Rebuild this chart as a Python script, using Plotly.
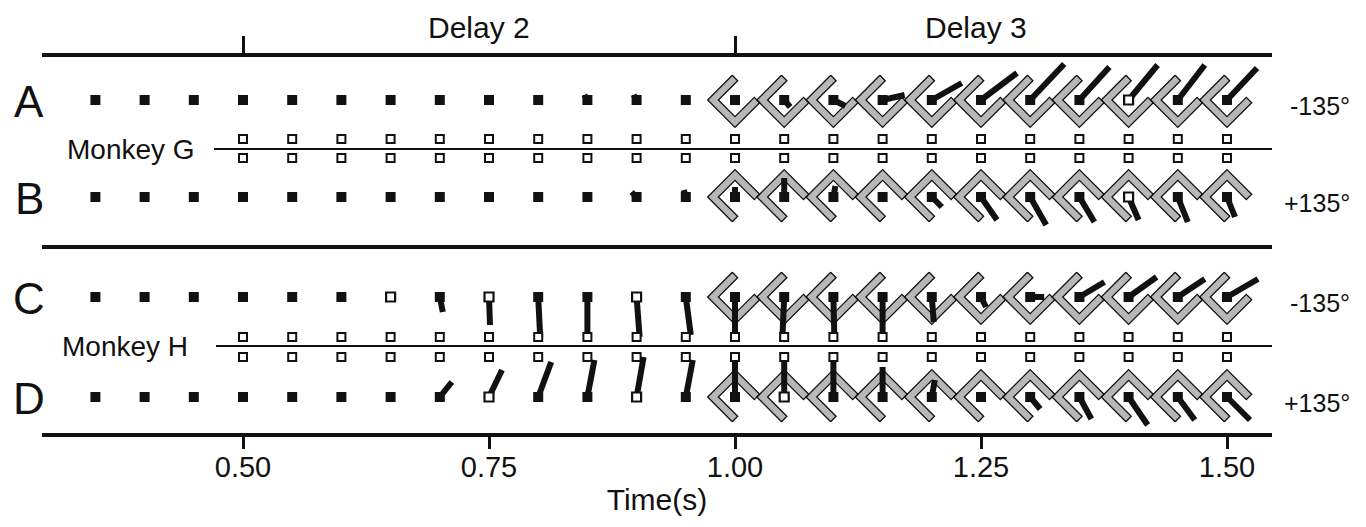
import numpy as np
import plotly.graph_objects as go

# ---------------- data ----------------
times = [0.35, 0.40, 0.45, 0.50, 0.55, 0.60, 0.65, 0.70, 0.75, 0.80, 0.85, 0.90,
         0.95, 1.00, 1.05, 1.10, 1.15, 1.20, 1.25, 1.30, 1.35, 1.40, 1.45, 1.50]
mid_times = [0.50, 0.55, 0.60, 0.65, 0.70, 0.75, 0.80, 0.85, 0.90, 0.95, 1.00,
             1.05, 1.10, 1.15, 1.20, 1.25, 1.30, 1.35, 1.40, 1.45, 1.50]
stim_times = [1.00, 1.05, 1.10, 1.15, 1.20, 1.25, 1.30, 1.35, 1.40, 1.45, 1.50]
tick_vals = [0.50, 0.75, 1.00, 1.25, 1.50]
tick_text = ["0.50", "0.75", "1.00", "1.25", "1.50"]
epoch_ticks = [0.50, 1.00]
epoch_names = ["Delay 2", "Delay 3"]
epoch_label_t = [0.74, 1.245]
row_names = ["A", "B", "C", "D"]
target_labels = ["-135°", "+135°"]
monkeys = ["Monkey G", "Monkey H"]

# population vector components (horizontal, vertical) per time bin
a_vx = [0, 0, 0, 0, 0, 0, 0, 0, 0, 0, -3, -3, 0, 0, 6, 12, 22, 30, 36, 34, 30, 29, 27, 30]
a_vy = [0, 0, 0, 0, 0, 0, 0, 0, 0, 0, -5, -5, 0, 0, 7, 6, -5, -17, -27, -36, -33, -35, -35, -32]
b_vx = [0, 0, 0, 0, 0, 0, 0, 0, 0, 0, 0, -5, -2, 0, 0, 2, 0, 10, 16, 16, 15, 10, 10, 8]
b_vy = [0, 0, 0, 0, 0, 0, 0, 0, 0, 0, 0, -5, -7, -10, -19, -11, 0, 10, 23, 28, 25, 23, 25, 20]
c_vx = [0, 0, 0, 0, 0, 0, 0, 3, 1, 2, 0, 3, 5, 0, -2, 1, 0, 2, 5, 14, 25, 28, 27, 31]
c_vy = [0, 0, 0, 0, 0, 0, 0, 15, 28, 40, 42, 40, 38, 42, 45, 43, 45, 25, 10, 0, -15, -20, -18, -18]
d_vx = [0, 0, 0, 0, 0, 0, 0, 12, 13, 13, 7, 7, 7, 0, 0, 0, 0, 3, 0, 10, 12, 19, 17, 23]
d_vy = [0, 0, 0, 0, 0, 0, 0, -15, -27, -35, -37, -40, -37, -40, -42, -38, -30, -17, 0, 12, 22, 28, 23, 23]
# bins whose origin marker is drawn hollow
a_open = [21]
b_open = [21]
c_open = [6, 8, 11]
d_open = [8, 11, 14]

# ---------------- layout constants (page pixel coordinates) ----------------
PAGE_OFF = 8                       # default body margin of the html page
X_MIN, X_MAX = 0.29573, 1.54573
PLOT_L, PLOT_R, PLOT_T, PLOT_B = 42, 1272, 57, 433
W, H = 1350, 511
ML = PLOT_L - PAGE_OFF
MT = PLOT_T - PAGE_OFF
MR = W - (PLOT_R - PAGE_OFF)
MB = H - (PLOT_B - PAGE_OFF)
PLOT_W = PLOT_R - PLOT_L
PLOT_H = PLOT_B - PLOT_T
PX_PER_S = PLOT_W / (X_MAX - X_MIN)
ROW_Y = [100, 197, 297, 397]
MID_Y = [(139, 158), (337, 357)]
MID_LINE_Y = [149, 346]
MID_LINE_X0 = [214, 216]
MONKEY_X = [131, 125]
SEP_Y = 247
FONT = "Liberation Sans, Arial, Helvetica, sans-serif"
INK = "#111111"
GRAY = "#b7b7b7"

rows_vx = [a_vx, b_vx, c_vx, d_vx]
rows_vy = [a_vy, b_vy, c_vy, d_vy]
rows_open = [a_open, b_open, c_open, d_open]
open_dir = [-1, 1, -1, 1]          # chevron gap toward upper right (-1) or lower right (+1)


def dt(px):
    return px / PX_PER_S


def px_paper(px):
    return (px - PLOT_L) / PLOT_W


def py_paper(py):
    return (PLOT_B - py) / PLOT_H


R, HW = 22.0, 3.8


def chevron(t, yc, s):
    u0 = np.array([0.0, s]); u1 = np.array([-1.0, 0.0])
    u2 = np.array([0.0, -s]); u3 = np.array([1.0, 0.0])
    n01 = (u0 + u1) / np.linalg.norm(u0 + u1)
    n23 = (u2 + u3) / np.linalg.norm(u2 + u3)
    k = HW * np.sqrt(2)
    pts = [R * u0 + HW * n01, (R + k) * u1, (R + k) * u2, R * u3 + HW * n23,
           R * u3 - HW * n23, (R - k) * u2, (R - k) * u1, R * u0 - HW * n01,
           R * u0 + HW * n01]
    xs = [t + dt(p[0]) for p in pts]
    ys = [yc + p[1] for p in pts]
    return xs, ys


fig = go.Figure()

# chevrons (stimulus cue)
for r in range(4):
    cx, cy = [], []
    for t in stim_times:
        xs, ys = chevron(t, ROW_Y[r], open_dir[r])
        cx += xs + [None]
        cy += ys + [None]
    fig.add_trace(go.Scatter(x=cx, y=cy, mode="lines", fill="toself",
                             fillcolor=GRAY, line=dict(color=INK, width=1.3),
                             hoverinfo="skip", showlegend=False))

# population vectors
for r in range(4):
    lx, ly = [], []
    for i, t in enumerate(times):
        vx, vy = rows_vx[r][i], rows_vy[r][i]
        if vx == 0 and vy == 0:
            continue
        lx += [t, t + dt(vx), None]
        ly += [ROW_Y[r], ROW_Y[r] + vy, None]
    fig.add_trace(go.Scatter(x=lx, y=ly, mode="lines",
                             line=dict(color=INK, width=6),
                             hoverinfo="skip", showlegend=False))

# origin markers
for r in range(4):
    filled_t = [t for i, t in enumerate(times) if i not in rows_open[r]]
    open_t = [times[i] for i in rows_open[r]]
    fig.add_trace(go.Scatter(x=filled_t, y=[ROW_Y[r]] * len(filled_t), mode="markers",
                             marker=dict(symbol="square", size=10, color=INK),
                             hoverinfo="skip", showlegend=False))
    fig.add_trace(go.Scatter(x=open_t, y=[ROW_Y[r]] * len(open_t), mode="markers",
                             marker=dict(symbol="square", size=9, color="white",
                                         line=dict(color=INK, width=2.2)),
                             hoverinfo="skip", showlegend=False))

# small hollow markers beside the monkey lines
for m in range(2):
    for yv in MID_Y[m]:
        fig.add_trace(go.Scatter(x=mid_times, y=[yv] * len(mid_times), mode="markers",
                                 marker=dict(symbol="square", size=8, color="white",
                                             line=dict(color=INK, width=2)),
                                 hoverinfo="skip", showlegend=False))

# invisible trace to activate the top epoch axis
fig.add_trace(go.Scatter(x=[0.5], y=[300], xaxis="x2", mode="markers",
                         marker=dict(opacity=0), hoverinfo="skip", showlegend=False))

shapes = [dict(type="line", xref="paper", yref="y", x0=0, x1=1, y0=SEP_Y, y1=SEP_Y,
               line=dict(color=INK, width=4))]
for m in range(2):
    shapes.append(dict(type="line", xref="paper", yref="y",
                       x0=px_paper(MID_LINE_X0[m]), x1=1,
                       y0=MID_LINE_Y[m], y1=MID_LINE_Y[m],
                       line=dict(color=INK, width=2)))

ann = []
for name, xc in zip(epoch_names, epoch_label_t):
    ann.append(dict(text=name, x=xc, xref="x", y=py_paper(27), yref="paper",
                    showarrow=False, xanchor="center", yanchor="middle",
                    font=dict(size=30, family=FONT, color=INK)))
for name, yv in zip(row_names, ROW_Y):
    ann.append(dict(text=name, x=px_paper(29), xref="paper", y=py_paper(yv + 1),
                    yref="paper", showarrow=False, xanchor="center", yanchor="middle",
                    font=dict(size=44, family=FONT, color=INK)))
for name, yv, xm in zip(monkeys, MID_LINE_Y, MONKEY_X):
    ann.append(dict(text=name, x=px_paper(xm), xref="paper", y=py_paper(yv),
                    yref="paper", showarrow=False, xanchor="center", yanchor="middle",
                    font=dict(size=28, family=FONT, color=INK)))
for r in range(4):
    ann.append(dict(text=target_labels[r % 2], x=px_paper(1352), xref="paper",
                    y=py_paper(ROW_Y[r] + 6), yref="paper", showarrow=False,
                    xanchor="right", yanchor="middle",
                    font=dict(size=25, family=FONT, color=INK)))

fig.update_layout(
    width=W, height=H,
    margin=dict(l=ML, r=MR, t=MT, b=MB, pad=0, autoexpand=False),
    paper_bgcolor="white", plot_bgcolor="white",
    shapes=shapes, annotations=ann,
    xaxis=dict(range=[X_MIN, X_MAX], showgrid=False, zeroline=False, automargin=False,
               showline=True, linecolor=INK, linewidth=4,
               ticks="outside", ticklen=12, tickwidth=3, tickcolor=INK,
               tickvals=tick_vals, ticktext=tick_text, ticklabelstandoff=-7,
               tickfont=dict(size=29, family=FONT, color=INK),
               title=dict(text="Time(s)", font=dict(size=30, family=FONT, color=INK),
                          standoff=7)),
    xaxis2=dict(range=[X_MIN, X_MAX], overlaying="x", side="top", anchor="y",
                automargin=False,
                showgrid=False, zeroline=False, showline=True, linecolor=INK,
                linewidth=4, ticks="outside", ticklen=17, tickwidth=3,
                tickcolor=INK, tickvals=epoch_ticks, showticklabels=False),
    yaxis=dict(range=[PLOT_B, PLOT_T], visible=False, fixedrange=True,
               automargin=False),
)

fig.write_html("out.html")
